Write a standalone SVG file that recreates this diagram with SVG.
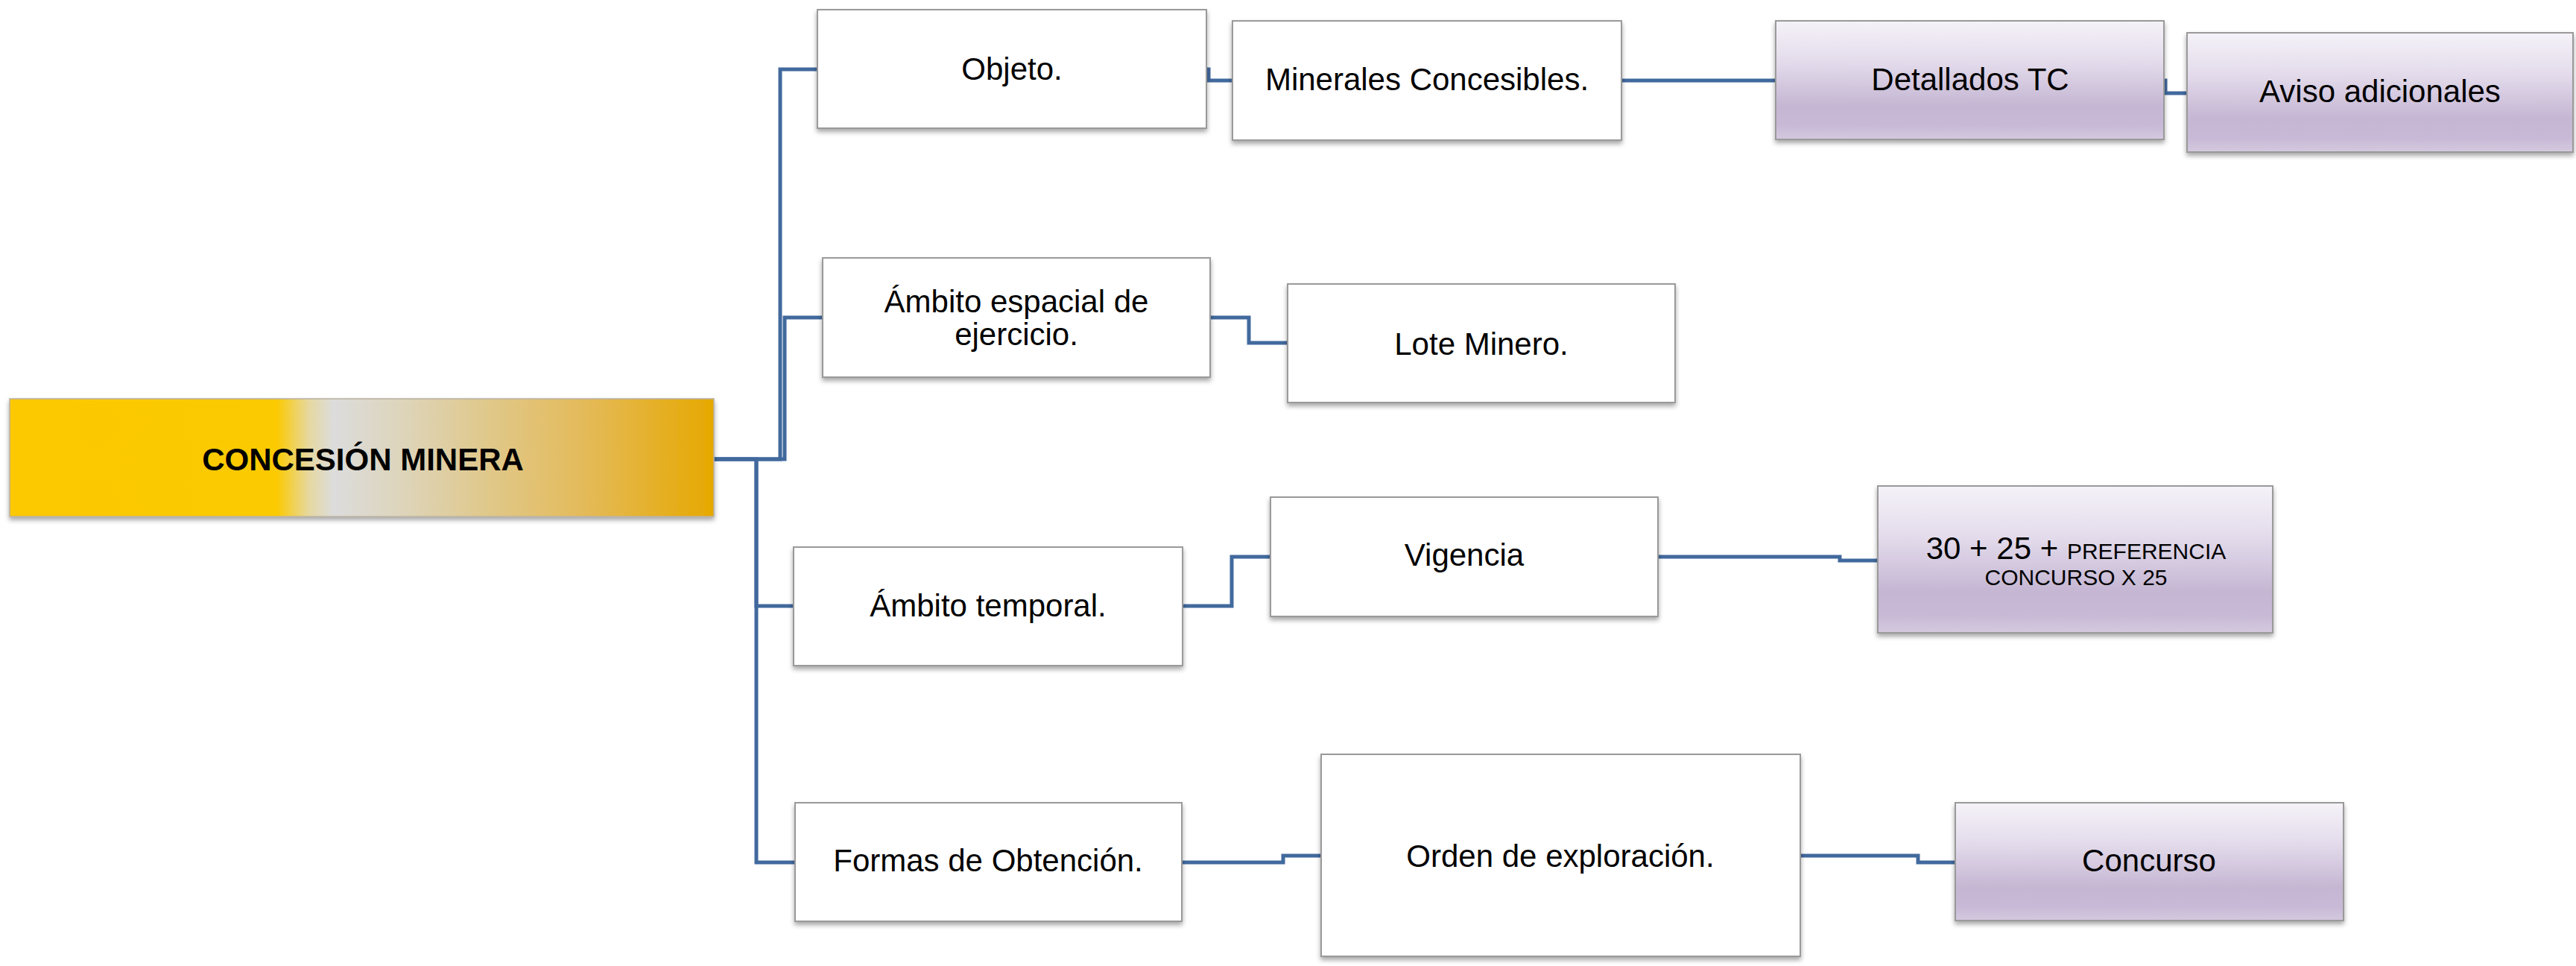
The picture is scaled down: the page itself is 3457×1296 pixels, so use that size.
<svg xmlns="http://www.w3.org/2000/svg" width="3457" height="1296" viewBox="0 0 3457 1296">
<defs>
<linearGradient id="gRoot" x1="0" y1="0" x2="1" y2="0">
<stop offset="0" stop-color="#fcc800"/>
<stop offset="0.38" stop-color="#fbca05"/>
<stop offset="0.425" stop-color="#e6d8a0"/>
<stop offset="0.46" stop-color="#dcdcdc"/>
<stop offset="0.55" stop-color="#ddd5bd"/>
<stop offset="0.68" stop-color="#e0c88a"/>
<stop offset="0.82" stop-color="#e4ba58"/>
<stop offset="1" stop-color="#e6a800"/>
</linearGradient>
<linearGradient id="gPurple" x1="0" y1="0" x2="0" y2="1">
<stop offset="0" stop-color="#f5f2f8"/>
<stop offset="0.35" stop-color="#e3dbeb"/>
<stop offset="0.72" stop-color="#c5b6d3"/>
<stop offset="0.88" stop-color="#c8b9d6"/>
<stop offset="1" stop-color="#d4c9df"/>
</linearGradient>
<filter id="sh" x="-5%" y="-10%" width="110%" height="125%">
<feDropShadow dx="0" dy="4" stdDeviation="3" flood-color="#000" flood-opacity="0.35"/>
</filter>
</defs>
<style>
.box{fill:#ffffff;stroke:#9a9a9a;stroke-width:2;filter:url(#sh)}
.pbox{fill:url(#gPurple);stroke:#9a9a9a;stroke-width:2;filter:url(#sh)}
.root{fill:url(#gRoot);stroke:#b8b0a0;stroke-width:1.5;filter:url(#sh)}
.t{font-family:"Liberation Sans",Arial,sans-serif;font-size:42px;fill:#000;text-anchor:middle}
.tb{font-family:"Liberation Sans",Arial,sans-serif;font-size:42px;font-weight:bold;fill:#000;text-anchor:middle}
.s{font-size:30px}
.c{fill:none;stroke:#41699d;stroke-width:5}
</style>
<g id="connectors">
<path class="c" d="M958,616 H1047 V93 H1097"/>
<path class="c" d="M958,616 H1053 V426 H1104"/>
<path class="c" d="M958,616 H1015 V813 H1065"/>
<path class="c" d="M1015,616 V1157 H1067"/>
<path class="c" d="M1617,93 H1622 V108 H1654"/>
<path class="c" d="M2176,108 H2383"/>
<path class="c" d="M2902,108 H2906 V125 H2935"/>
<path class="c" d="M1624,426 H1676 V460 H1728"/>
<path class="c" d="M1587,813 H1653 V747 H1705"/>
<path class="c" d="M2225,747 H2469 V752 H2520"/>
<path class="c" d="M1586,1157 H1722 V1148 H1773"/>
<path class="c" d="M2416,1148 H2574 V1157 H2624"/>
</g>
<g id="root">
<rect class="root" x="13" y="535" width="945" height="158"/>
<text class="tb" x="487" y="631">CONCESIÓN MINERA</text>
</g>
<g id="objeto">
<rect class="box" x="1097" y="13" width="522" height="159"/>
<text class="t" x="1358" y="107">Objeto.</text>
</g>
<g id="minerales">
<rect class="box" x="1654" y="28" width="522" height="160"/>
<text class="t" x="1915" y="121">Minerales Concesibles.</text>
</g>
<g id="detallados">
<rect class="pbox" x="2383" y="28" width="521" height="159"/>
<text class="t" x="2644" y="121">Detallados TC</text>
</g>
<g id="aviso">
<rect class="pbox" x="2935" y="44" width="518" height="160"/>
<text class="t" x="3194" y="137">Aviso adicionales</text>
</g>
<g id="ambito-espacial">
<rect class="box" x="1104" y="346" width="520" height="160"/>
<text class="t" x="1364" y="419">Ámbito espacial de</text>
<text class="t" x="1364" y="463">ejercicio.</text>
</g>
<g id="lote">
<rect class="box" x="1728" y="381" width="520" height="159"/>
<text class="t" x="1988" y="476">Lote Minero.</text>
</g>
<g id="ambito-temporal">
<rect class="box" x="1065" y="734" width="522" height="159"/>
<text class="t" x="1326" y="827">Ámbito temporal.</text>
</g>
<g id="vigencia">
<rect class="box" x="1705" y="667" width="520" height="160"/>
<text class="t" x="1965" y="759">Vigencia</text>
</g>
<g id="vigencia-detalle">
<rect class="pbox" x="2520" y="652" width="530" height="197"/>
<text class="t" x="2786" y="750">30 + 25 + <tspan class="s">PREFERENCIA</tspan></text>
<text class="t s" x="2786" y="785">CONCURSO X 25</text>
</g>
<g id="formas">
<rect class="box" x="1067" y="1077" width="519" height="159"/>
<text class="t" x="1326" y="1169">Formas de Obtención.</text>
</g>
<g id="orden">
<rect class="box" x="1773" y="1012" width="643" height="271"/>
<text class="t" x="2094" y="1163">Orden de exploración.</text>
</g>
<g id="concurso">
<rect class="pbox" x="2624" y="1077" width="521" height="158"/>
<text class="t" x="2884" y="1169">Concurso</text>
</g>
</svg>
